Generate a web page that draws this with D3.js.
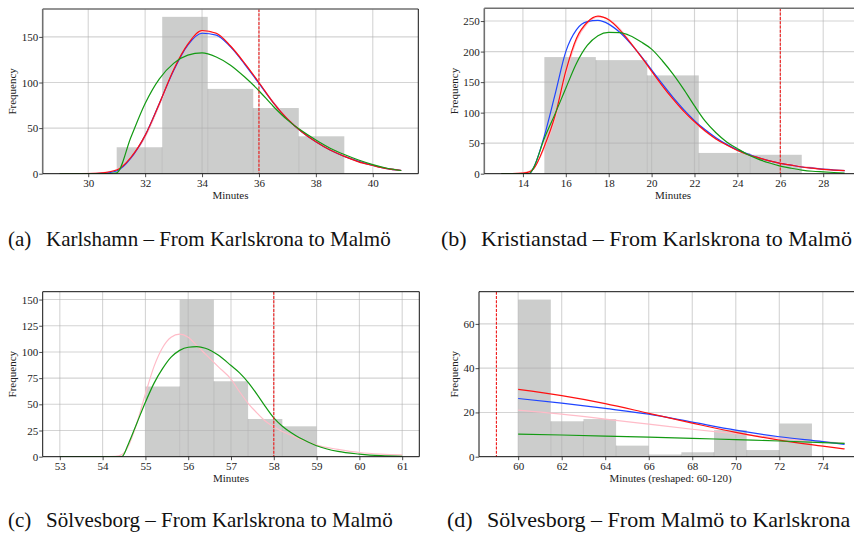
<!DOCTYPE html>
<html>
<head>
<meta charset="utf-8">
<script src="https://cdn.jsdelivr.net/npm/d3@7"></script>
<style>
  body { margin: 0; background: #fff; }
  svg { display: block; font-family: "Liberation Serif", "Times New Roman", serif; }
</style>
</head>
<body>
<svg id="fig" width="854" height="538"></svg>
<script>
// ---- (a) Karlshamn, Karlskrona -> Malmö ----
var aEdges  = [31, 32.6, 34.2, 35.8, 37.4, 39];
var aCounts = [29, 172, 93, 72, 41];
var aX      = [29, 29.5, 30, 30.5, 31, 31.5, 32, 32.5, 33, 33.5, 34, 34.5, 35, 35.5, 36, 36.5, 37, 37.5, 38, 38.5, 39, 39.5, 40, 40.5, 41];
var aRed    = [0, 0, 0.2, 1, 4, 18, 42, 77, 114, 142, 157, 154, 140, 121, 100, 78, 60, 46, 35, 26, 19, 13, 9, 5.5, 3.5];
var aBlue   = [0, 0, 0, 0.5, 3, 17, 42, 77, 113, 141, 154, 152, 139, 120, 99, 78, 60, 46, 35, 26, 19, 13.5, 9, 5.5, 3.5];
var aPink   = [0, 0, 0.3, 1.2, 4.5, 17, 40, 75, 112, 141, 156, 154, 140, 121, 100, 79, 61, 47, 36, 27, 19.5, 14, 9.5, 6, 4];
var aGreen  = [0, 0, 0, 0, 1, 40, 77, 104, 121, 130, 132.5, 128, 119, 106, 91, 74, 59, 47, 37, 28, 21, 15, 10, 6, 3.5];
var aMark   = 36;
var aXTicks = [30, 32, 34, 36, 38, 40];
var aYTicks = [0, 50, 100, 150];

// ---- (b) Kristianstad, Karlskrona -> Malmö ----
var bEdges  = [15, 17.4, 19.8, 22.2, 24.6, 27];
var bCounts = [191, 186, 161, 34, 31];
var bX      = [13, 13.5, 14, 14.3, 14.5, 15, 15.5, 16, 16.5, 17, 17.5, 18, 18.5, 19, 19.5, 20, 20.5, 21, 21.5, 22, 22.5, 23, 23.5, 24, 24.5, 25, 25.5, 26, 26.5, 27, 27.5, 28, 28.5, 29];
var bRed    = [0, 0.2, 1, 3, 8, 45, 95, 168, 222, 248, 258, 252, 236, 215, 192, 168, 144, 122, 102, 85, 70, 57, 47, 38, 31, 26, 21, 17, 14, 11, 9, 7, 6, 5];
var bBlue   = [0, 0, 0, 0, 10, 62, 130, 200, 236, 249, 251, 245, 232, 214, 193, 170, 147, 125, 105, 87, 72, 59, 48, 39, 32, 26, 21, 17, 14, 11, 9, 7.5, 6, 5];
var bPink   = [0, 0.3, 1.5, 4, 9, 42, 90, 162, 218, 246, 257, 253, 238, 216, 192, 167, 143, 121, 101, 84, 69, 57, 47, 39, 32, 26, 22, 18, 15, 12, 10, 8, 6.5, 5.5];
var bGreen  = [0, 0, 0, 0, 10, 58, 98, 140, 181, 210, 226, 231.5, 231, 226, 216, 204, 185, 163, 138, 111, 86, 67, 52, 41, 31, 23.5, 17.5, 12.5, 9, 6, 4, 3, 2, 1];
var bMark   = 26;
var bXTicks = [14, 16, 18, 20, 22, 24, 26, 28];
var bYTicks = [0, 50, 100, 150, 200, 250];

// ---- (c) Sölvesborg, Karlskrona -> Malmö ----
var cEdges  = [55, 55.8, 56.6, 57.4, 58.2, 59];
var cCounts = [67, 150, 72, 36, 29];
var cX      = [53, 54, 54.3, 54.45, 54.6, 54.8, 55, 55.2, 55.4, 55.6, 55.8, 56, 56.2, 56.4, 56.7, 57, 57.2, 57.4, 57.6, 57.8, 58, 58.2, 58.4, 58.6, 58.8, 59, 59.5, 60, 60.5, 61];
var cPink   = [0, 0, 0.3, 2, 10, 32, 60, 86, 104, 114, 117, 114, 106, 98, 86, 74, 62, 51, 42, 34, 28.5, 24, 20.5, 17, 14, 11, 7, 4, 2.5, 1.8];
var cGreen  = [0, 0, 0, 0, 12, 32, 52, 70, 84, 95, 101.5, 104.5, 105, 103.5, 97, 87, 80, 71, 60, 48, 37, 29, 23, 18, 14, 10.5, 5, 2.5, 1, 0.4];
var cMark   = 58;
var cXTicks = [53, 54, 55, 56, 57, 58, 59, 60, 61];
var cYTicks = [0, 25, 50, 75, 100, 125, 150];

// ---- (d) Sölvesborg, Malmö -> Karlskrona ----
var dEdges  = [60, 61.5, 63, 64.5, 66, 67.5, 69, 70.5, 72, 73.5];
var dCounts = [71, 16, 17, 5, 1, 2, 12, 3, 15];
var dX      = [60, 62, 64, 66, 68, 70, 72, 74, 75];
var dRed    = [30.4, 27.6, 24, 19.6, 15.2, 11, 7.5, 4.8, 3.5];
var dBlue   = [26.3, 24.2, 21.8, 19.2, 15.6, 12, 9, 6.8, 5.6];
var dPink   = [21, 19.2, 17, 14.7, 12.4, 10.4, 8.4, 6.8, 6];
var dGreen  = [10.2, 9.8, 9.3, 8.8, 8.3, 7.7, 7.1, 6.4, 6];
var dMark   = 59;
var dXTicks = [60, 62, 64, 66, 68, 70, 72, 74];
var dYTicks = [0, 20, 40, 60];

var captions = [
  ["(a)", "Karlshamn – From Karlskrona to Malmö"],
  ["(b)", "Kristianstad – From Karlskrona to Malmö"],
  ["(c)", "Sölvesborg – From Karlskrona to Malmö"],
  ["(d)", "Sölvesborg – From Malmö to Karlskrona"]
];

var colors = { red: "#ff1010", blue: "#1f45ff", pink: "#ffbcc8", green: "#139a13" };

var panels = [
  { id: "a", left: 42.7, right: 418.3, top: 9, bottom: 173.7, edges: aEdges, counts: aCounts, xs: aX,
    curves: [["pink", aPink], ["blue", aBlue], ["red", aRed], ["green", aGreen]],
    mark: aMark, xTicks: aXTicks, yTicks: aYTicks, xLabel: "Minutes", greySpine: true },
  { id: "b", left: 484.3, right: 861.8, top: 8.3, bottom: 173.7, edges: bEdges, counts: bCounts, xs: bX,
    curves: [["pink", bPink], ["blue", bBlue], ["red", bRed], ["green", bGreen]],
    mark: bMark, xTicks: bXTicks, yTicks: bYTicks, xLabel: "Minutes", greySpine: true },
  { id: "c", left: 42.7, right: 419.3, top: 291.7, bottom: 456.7, edges: cEdges, counts: cCounts, xs: cX,
    curves: [["pink", cPink], ["green", cGreen]],
    mark: cMark, xTicks: cXTicks, yTicks: cYTicks, xLabel: "Minutes", greySpine: false },
  { id: "d", left: 479, right: 862, top: 291.7, bottom: 456.7, edges: dEdges, counts: dCounts, xs: dX,
    curves: [["pink", dPink], ["blue", dBlue], ["red", dRed], ["green", dGreen]],
    mark: dMark, xTicks: dXTicks, yTicks: dYTicks, xLabel: "Minutes (reshaped: 60-120)", greySpine: false }
];

var svg = d3.select("#fig");

function drawPanel(p) {
  // autoscale like matplotlib: 5% x margin, 5% headroom in y
  var xMin = d3.min([p.xs[0], p.edges[0], p.mark]);
  var xMax = d3.max([p.xs[p.xs.length - 1], p.edges[p.edges.length - 1], p.mark]);
  var pad = (xMax - xMin) * 0.05;
  var yTop = d3.max([d3.max(p.counts), d3.max(p.curves, function(c){ return d3.max(c[1]); })]) * 1.05;

  var x = d3.scaleLinear().domain([xMin - pad, xMax + pad]).range([p.left, p.right]);
  var y = d3.scaleLinear().domain([0, yTop]).range([p.bottom, p.top]);

  var g = svg.append("g").attr("class", "panel-" + p.id);
  var clipId = "clip-" + p.id;
  svg.append("clipPath").attr("id", clipId).append("rect")
    .attr("x", p.left).attr("y", p.top)
    .attr("width", p.right - p.left).attr("height", p.bottom - p.top);
  var plot = g.append("g").attr("clip-path", "url(#" + clipId + ")");

  // histogram bars
  plot.selectAll("rect.bar").data(p.counts).enter().append("rect")
    .attr("class", "bar")
    .attr("x", function(d, i){ return x(p.edges[i]); })
    .attr("width", function(d, i){ return x(p.edges[i + 1]) - x(p.edges[i]); })
    .attr("y", function(d){ return y(d); })
    .attr("height", function(d){ return y(0) - y(d); })
    .attr("fill", "#cccdcc");

  // faint seams between neighbouring bars
  var seams = p.counts.slice(1).map(function(d, i){ return { e: p.edges[i + 1], h: Math.min(d, p.counts[i]) }; });
  plot.selectAll("line.seam").data(seams).enter().append("line")
    .attr("x1", function(d){ return x(d.e); }).attr("x2", function(d){ return x(d.e); })
    .attr("y1", y(0)).attr("y2", function(d){ return y(d.h); })
    .attr("stroke", "#b4b5b4").attr("stroke-width", 0.7);

  // grid on top of the bars
  plot.selectAll("line.gx").data(p.xTicks).enter().append("line")
    .attr("x1", function(d){ return x(d); }).attr("x2", function(d){ return x(d); })
    .attr("y1", p.top).attr("y2", p.bottom)
    .attr("stroke", "#b0b0b0").attr("stroke-opacity", 0.55).attr("stroke-width", 1.1);
  plot.selectAll("line.gy").data(p.yTicks).enter().append("line")
    .attr("x1", p.left).attr("x2", p.right)
    .attr("y1", function(d){ return y(d); }).attr("y2", function(d){ return y(d); })
    .attr("stroke", "#b0b0b0").attr("stroke-opacity", 0.55).attr("stroke-width", 1.1);

  // fitted curves
  var line = d3.line()
    .x(function(d, i){ return x(p.xs[i]); })
    .y(function(d){ return y(d); })
    .curve(d3.curveMonotoneX);
  p.curves.forEach(function(c){
    plot.append("path").datum(c[1])
      .attr("d", line)
      .attr("fill", "none")
      .attr("stroke", colors[c[0]])
      .attr("stroke-width", 1.2);
  });

  // threshold marker
  plot.append("line")
    .attr("x1", x(p.mark)).attr("x2", x(p.mark))
    .attr("y1", p.top).attr("y2", p.bottom)
    .attr("stroke", "#f01818").attr("stroke-width", 1.1)
    .attr("stroke-dasharray", "3,1.3");

  // spines
  var sp = g.append("g");
  var grey = p.greySpine ? "#707070" : "#111";
  var gw = p.greySpine ? 1.6 : 1;
  sp.append("line").attr("x1", p.left).attr("x2", p.right).attr("y1", p.top).attr("y2", p.top)
    .attr("stroke", grey).attr("stroke-width", gw);
  sp.append("line").attr("x1", p.left).attr("x2", p.left).attr("y1", p.top).attr("y2", p.bottom)
    .attr("stroke", grey).attr("stroke-width", gw);
  sp.append("line").attr("x1", p.left).attr("x2", p.right).attr("y1", p.bottom).attr("y2", p.bottom)
    .attr("stroke", "#111").attr("stroke-width", 1);
  sp.append("line").attr("x1", p.right).attr("x2", p.right).attr("y1", p.top).attr("y2", p.bottom)
    .attr("stroke", "#111").attr("stroke-width", 1);

  // axes
  var xa = g.append("g").attr("transform", "translate(0," + p.bottom + ")")
    .call(d3.axisBottom(x).tickValues(p.xTicks).tickSize(3.5).tickPadding(2).tickFormat(d3.format("d")));
  var ya = g.append("g").attr("transform", "translate(" + p.left + ",0)")
    .call(d3.axisLeft(y).tickValues(p.yTicks).tickSize(3.5).tickPadding(1).tickFormat(d3.format("d")));
  [xa, ya].forEach(function(a){
    a.select(".domain").remove();
    a.attr("font-family", null).attr("font-size", null);
    a.selectAll("line").attr("stroke", "#222").attr("stroke-width", 0.8);
    a.selectAll("text").attr("fill", "#222").style("font-size", "11px");
  });

  g.append("text")
    .attr("x", (p.left + p.right) / 2).attr("y", p.bottom + 25.5)
    .attr("text-anchor", "middle").style("font-size", "11px").attr("fill", "#222")
    .text(p.xLabel);

  var w = ya.node().getBBox().width;
  g.append("text")
    .attr("transform", "translate(" + (p.left - w - 5.5) + "," + ((p.top + p.bottom) / 2) + ") rotate(-90)")
    .attr("text-anchor", "middle").style("font-size", "11px").attr("fill", "#222")
    .text("Frequency");
}

panels.forEach(drawPanel);

// sub-figure captions (right column sits a little larger in the source)
var capPos = [[8, 46, 246, 21], [441, 481, 246, 22], [8, 46, 527, 21], [447, 487, 527, 22]];
captions.forEach(function(c, i){
  var t = svg.append("text").attr("y", capPos[i][2]).style("font-size", capPos[i][3] + "px").attr("fill", "#111");
  t.append("tspan").attr("x", capPos[i][0]).text(c[0]);
  t.append("tspan").attr("x", capPos[i][1]).text(c[1]);
});
</script>
</body>
</html>
